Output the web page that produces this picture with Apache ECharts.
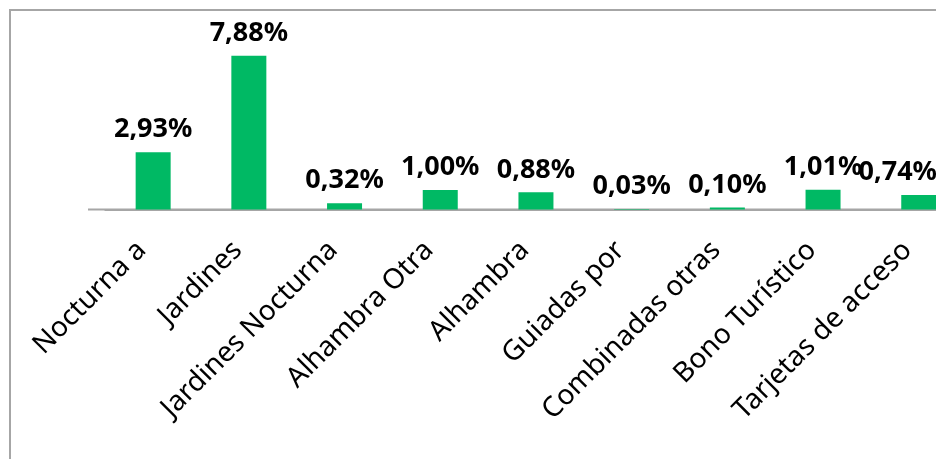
<!DOCTYPE html>
<html><head><meta charset="utf-8">
<script src="https://cdn.jsdelivr.net/npm/echarts@6/dist/echarts.min.js"></script>
<style>html,body{margin:0;padding:0;background:#fff}#c{width:936px;height:459px}</style>
</head><body><div id="c"></div>
<script>
const categories = ["Nocturna a","Jardines","Jardines Nocturna","Alhambra Otra","Alhambra","Guiadas por","Combinadas otras","Bono Turístico","Tarjetas de acceso"];
const values = [2.93, 7.88, 0.32, 1.00, 0.88, 0.03, 0.10, 1.01, 0.74];

const FONT = '"Noto Sans", sans-serif';
const chart = echarts.init(document.getElementById('c'), null, {renderer:'canvas'});
const data = values.map((v,i)=> i===values.length-1 ? {value:v, label:{offset:[-21,0]}} : v);
chart.setOption({
  animation:false,
  grid:{left:105.3, top:14.3, width:861.3, height:195.2, outerBoundsMode:'none', containLabel:false},
  xAxis:{type:'category', data:categories,
    axisLine:{show:true, lineStyle:{color:'#a6a6a6', width:2}},
    axisTick:{show:false},
    axisLabel:{rotate:45, interval:0, fontFamily:FONT, fontSize:28, color:'#000', margin:25, padding:[0,16,0,0]}},
  yAxis:{type:'value', min:0, max:10, show:false, splitLine:{show:false}},
  series:[{type:'bar', data:data, barWidth:35, itemStyle:{color:'#00B964'},
    label:{show:true, position:'top', distance:9, fontFamily:FONT, fontWeight:'bold', fontSize:27, color:'#000',
      formatter:p=>p.value.toFixed(2).replace('.',',')+'%'}}]
});
const y0 = chart.convertToPixel({yAxisIndex:0}, 0);
chart.setOption({graphic:[
  {type:'line', shape:{x1:88,y1:y0,x2:936,y2:y0}, style:{stroke:'#a6a6a6', lineWidth:2}, silent:true},
  {type:'rect', shape:{x:10,y:10,width:1000,height:500}, style:{fill:null, stroke:'#a6a6a6', lineWidth:2}, silent:true}
]});
</script></body></html>
